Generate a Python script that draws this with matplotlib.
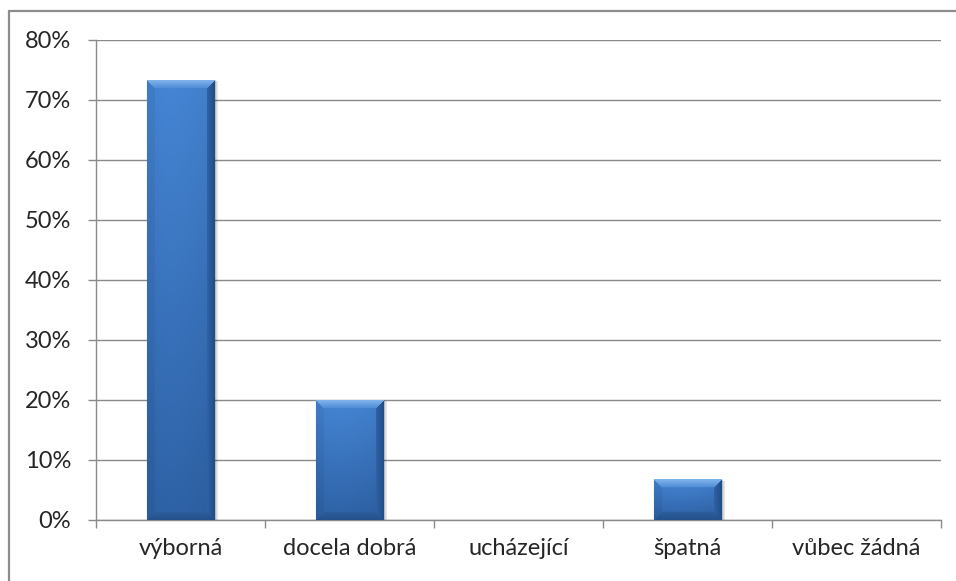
import numpy as np
import matplotlib
matplotlib.use("Agg")
import matplotlib.pyplot as plt
from matplotlib.patches import Rectangle
from matplotlib.ticker import PercentFormatter

categories = ["výborná", "docela dobrá", "ucházející", "špatná", "vůbec žádná"]
values = [73.33, 20.0, 0.0, 6.67, 0.0]
yticks = [0, 10, 20, 30, 40, 50, 60, 70, 80]

plt.rcParams["font.family"] = ["Lato", "DejaVu Sans"]

W, H = 956, 581
fig = plt.figure(figsize=(W / 100, H / 100), dpi=100)
ax = fig.add_axes([96 / W, 61 / H, (941 - 96) / W, 480 / H])

grid_c = "#8a8a8a"
txt_c = "#262626"
n = len(categories)
x = np.arange(n)
ax.set_xlim(-0.5, n - 0.5)
ax.set_ylim(0, 80)
ax.set_yticks(yticks)
ax.yaxis.set_major_formatter(PercentFormatter(decimals=0))
ax.grid(axis="y", color=grid_c, lw=1.0)
ax.set_axisbelow(True)

# x ticks sit between categories, labels centred under bars
ax.set_xticks(np.arange(-0.5, n, 1.0))
ax.set_xticklabels([])
ax.set_xticks(x, minor=True)
ax.set_xticklabels(categories, minor=True)
ax.tick_params(axis="x", which="minor", length=0, pad=13, labelsize=17, colors=txt_c)
ax.tick_params(axis="x", which="major", length=6, color=grid_c, width=1.0)
ax.tick_params(axis="y", length=6, color=grid_c, width=1.0, pad=12, labelsize=17,
               labelcolor=txt_c)
for s in ["top", "right"]:
    ax.spines[s].set_visible(False)
for s in ["left", "bottom"]:
    ax.spines[s].set_color(grid_c)
    ax.spines[s].set_linewidth(1.0)

bw = 0.4
bars = ax.bar(x, values, width=bw, color="none", zorder=3)

fig.canvas.draw()
to_px = ax.transData


def lerp(c1, c2, t):
    c1 = np.array(matplotlib.colors.to_rgb(c1))
    c2 = np.array(matplotlib.colors.to_rgb(c2))
    return c1 + (c2 - c1) * np.asarray(t)[..., None]


for b in bars:
    h = b.get_height()
    if h <= 0:
        continue
    x0, y0 = b.get_x(), b.get_y()
    (px0, py0), (px1, py1) = to_px.transform([(x0, y0), (x0 + bw, y0 + h)])
    wp, hp = int(round(px1 - px0)), int(round(py1 - py0))
    ux, uy = bw / wp, h / hp  # data units per pixel

    # soft shadow, mostly to the right and below
    for k, a in [(5, 0.04), (4, 0.05), (3, 0.06), (2, 0.07), (1, 0.08)]:
        ax.add_patch(Rectangle((x0 - k * ux * 0.3 + ux, y0 - k * uy * 0.6),
                               bw + k * ux * 0.9, h + k * uy * 0.4,
                               facecolor="black", alpha=a, lw=0, zorder=2))

    yy, xx = np.mgrid[0:hp, 0:wp].astype(float)
    t = yy / max(hp - 1, 1)
    img = lerp("#4585d4", "#2e62a6", t)
    hx = xx / max(wp - 1, 1)
    shade = 1 - 0.10 * np.abs(hx - 0.35) ** 1.5
    img = img * shade[..., None]

    bev = 8.0
    dl, dr, dt, db = xx, wp - 1 - xx, yy, hp - 1 - yy
    dmin = np.minimum(np.minimum(dl, dr), np.minimum(dt, db))
    top = (dt == dmin) & (dt < bev)
    left = (dl == dmin) & (dl < bev) & ~top
    right = (dr == dmin) & (dr < bev) & ~top
    bottom = (db == dmin) & (db < bev) & ~left & ~right & ~top
    img[top] = lerp("#80b3ea", "#4c8ad6", dt / bev)[top]
    img[left] = img[left] * 0.95
    img[right] = lerp("#214e88", "#3064a7", dr / bev)[right]
    img[bottom] = lerp("#25518b", "#2d5f9f", db / bev)[bottom]

    ax.imshow(img, extent=(x0, x0 + bw, y0, y0 + h), origin="upper",
              aspect="auto", interpolation="bilinear", zorder=4)

ax.set_xlim(-0.5, n - 0.5)
ax.set_ylim(0, 80)

# chart border (only top/left visible in the original)
fig.patches.append(Rectangle((8.5 / W, -0.1), 1.2, (581 - 10.5) / H + 0.1,
                             transform=fig.transFigure, fill=False,
                             edgecolor="#8c8c8c", lw=1.6))

fig.savefig("out.png", dpi=100)
